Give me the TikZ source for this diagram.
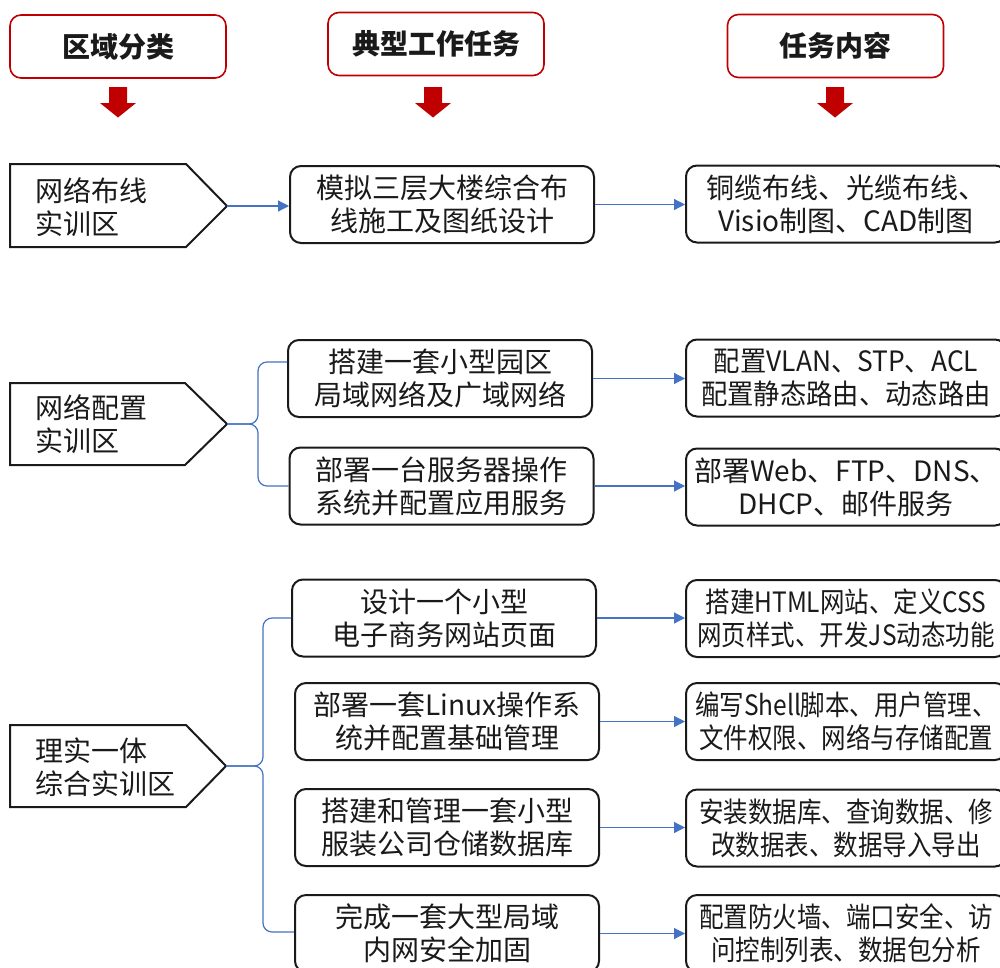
\documentclass[tikz,border=0pt]{standalone}
\usepackage{fontspec}
\usepackage{graphicx}
\setmainfont{Noto Sans CJK SC}
\usetikzlibrary{arrows.meta}
\definecolor{hred}{HTML}{C00000}
\definecolor{lblue}{HTML}{4472C4}
\definecolor{ink}{HTML}{1A1A1A}
\newcommand{\sqz}[1]{\scalebox{0.875}[1]{#1}}
\newcommand{\sqy}[1]{\scalebox{0.94}[1]{#1}}
\begin{document}
\begin{tikzpicture}[x=1pt,y=-1pt,
  every node/.style={inner sep=0pt, font=\fontsize{28}{33}\selectfont, text=ink},
  hdr/.style={draw=hred, line width=1.6pt, rounded corners=11pt, minimum width=216pt, minimum height=63pt, font=\fontsize{28}{33}\selectfont\bfseries},
  tbox/.style={draw=ink, line width=2pt, rounded corners=11pt, minimum width=304pt, minimum height=77pt, align=center},
  rbox/.style={tbox, minimum width=320pt},
  ptext/.style={anchor=west, align=left},
  pent/.style={draw=ink, line width=2pt, line join=miter},
  conn/.style={draw=lblue, line width=1.2pt},
  arr/.style={conn, -{Triangle[length=11pt,width=11pt]}},
  brace/.style={conn, rounded corners=9pt}
]
\useasboundingbox (0,0) rectangle (1000,967);
\clip (0,0) rectangle (1000,967);
\fill[white] (0,0) rectangle (1000,967);

% headers
\node[hdr] (h1) at (118,46.5) {区域分类};
\node[hdr] (h2) at (436,44) {典型工作任务};
\node[hdr] (h3) at (835.5,46) {任务内容};
\foreach \cx in {118,433,835}
  \fill[hred] (\cx-9,87) -- (\cx+9,87) -- (\cx+9,103) -- (\cx+18,103) -- (\cx,117.5) -- (\cx-18,103) -- (\cx-9,103) -- cycle;

% row 1
\draw[pent] (10,164) -- (186,164) -- (227,206) -- (186,247) -- (10,247) -- cycle;
\coordinate (t1) at (227,206);
\node[ptext] (p1) at (35,207) {网络布线\\实训区};
\node[tbox] (m1) at (442,204.5) {模拟三层大楼综合布\\线施工及图纸设计};
\node[rbox] (r1) at (846,204) {铜缆布线、光缆布线、\\Visio制图、CAD制图};
\draw[arr] (t1) -- (t1 -| m1.west);
\draw[arr] (m1.east) -- (m1.east -| r1.west);

% row 2
\draw[pent] (10,383) -- (185,383) -- (227,424) -- (185,465) -- (10,465) -- cycle;
\coordinate (t2) at (227,424);
\coordinate (b2) at (258,424);
\node[ptext] (p2) at (35,424) {网络配置\\实训区};
\node[tbox] (m2a) at (440,378.5) {搭建一套小型园区\\局域网络及广域网络};
\node[tbox] (m2b) at (441.5,486) {部署一台服务器操作\\系统并配置应用服务};
\node[rbox] (r2a) at (846,378) {\sqy{配置VLAN、STP、ACL}\\\sqy{配置静态路由、动态路由}};
\node[rbox] (r2b) at (846,487) {部署Web、FTP、DNS、\\DHCP、邮件服务};
\coordinate (b2t) at (258,362);
\draw[brace] (t2) -- (b2) -- (b2t) -- (b2t -| m2a.west);
\draw[brace] (t2) -- (b2) -- (b2 |- m2b.west) -- (m2b.west);
\draw[arr] (m2a.east) -- (m2a.east -| r2a.west);
\draw[arr] (m2b.east) -- (m2b.east -| r2b.west);

% row 3
\draw[pent] (10,725) -- (186,725) -- (226,766) -- (186,807) -- (10,807) -- cycle;
\coordinate (t3) at (226,766);
\coordinate (b3) at (263,766);
\node[ptext] (p3) at (35,767) {理实一体\\综合实训区};
\node[tbox] (m3a) at (444,618) {设计一个小型\\电子商务网站页面};
\node[tbox] (m3b) at (447,721.5) {部署一套Linux操作系\\统并配置基础管理};
\node[tbox] (m3c) at (447,827.5) {搭建和管理一套小型\\服装公司仓储数据库};
\node[tbox] (m3d) at (447,933.5) {完成一套大型局域\\内网安全加固};
\node[rbox] (r3a) at (846,618.5) {\sqz{搭建HTML网站、定义CSS}\\\sqz{网页样式、开发JS动态功能}};
\node[rbox] (r3b) at (846,721.5) {\sqz{编写Shell脚本、用户管理、}\\\sqz{文件权限、网络与存储配置}};
\node[rbox] (r3c) at (846,828) {\sqz{安装数据库、查询数据、修}\\\sqz{改数据表、数据导入导出}};
\node[rbox] (r3d) at (846,933.5) {\sqz{配置防火墙、端口安全、访}\\\sqz{问控制列表、数据包分析}};
\coordinate (b3b) at (263,932);
\draw[brace] (t3) -- (b3) -- (b3 |- m3a.west) -- (m3a.west);
\draw[brace] (t3) -- (b3) -- (b3b) -- (b3b -| m3d.west);
\draw[arr] (m3a.east) -- (m3a.east -| r3a.west);
\draw[arr] (m3b.east) -- (m3b.east -| r3b.west);
\draw[arr] (m3c.east) -- (m3c.east -| r3c.west);
\draw[arr] (m3d.east) -- (m3d.east -| r3d.west);
\end{tikzpicture}
\end{document}
